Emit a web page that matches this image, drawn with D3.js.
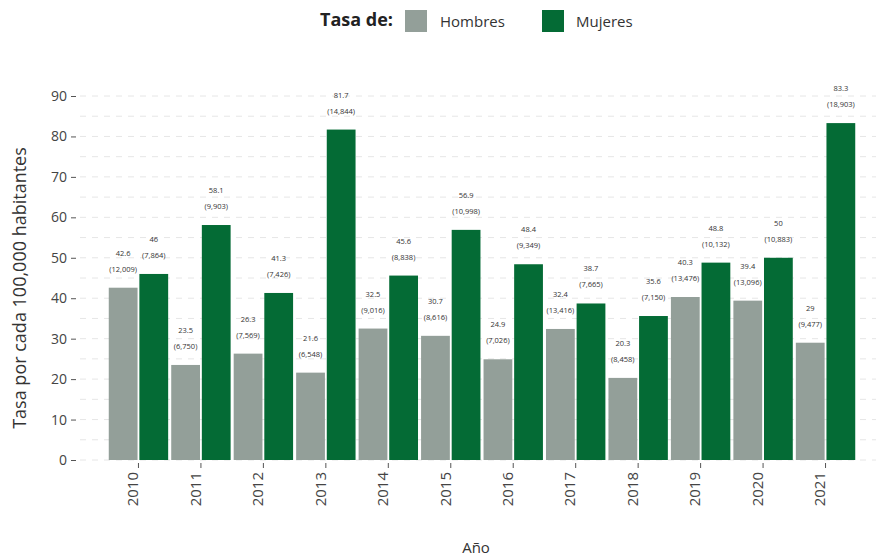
<!DOCTYPE html>
<html>
<head>
<meta charset="utf-8">
<script src="https://cdn.jsdelivr.net/npm/d3@7"></script>
<style>
  body { margin: 0; background: #fff; }
  svg text { font-family: "Open Sans", "DejaVu Sans", sans-serif; }
</style>
</head>
<body>
<div id="chart"></div>
<script>
// datos
const years = ["2010","2011","2012","2013","2014","2015","2016","2017","2018","2019","2020","2021"];
const hombres = [42.6, 23.5, 26.3, 21.6, 32.5, 30.7, 24.9, 32.4, 20.3, 40.3, 39.4, 29];
const hombresN = ["12,009","6,750","7,569","6,548","9,016","8,616","7,026","13,416","8,458","13,476","13,096","9,477"];
const mujeres = [46, 58.1, 41.3, 81.7, 45.6, 56.9, 48.4, 38.7, 35.6, 48.8, 50, 83.3];
const mujeresN = ["7,864","9,903","7,426","14,844","8,838","10,998","9,349","7,665","7,150","10,132","10,883","18,903"];
const series = ["Hombres", "Mujeres"];
const yTicks = [0, 10, 20, 30, 40, 50, 60, 70, 80, 90];

const width = 882, height = 558;
const colors = { Hombres: "#939f99", Mujeres: "#046b35" };

const svg = d3.select("#chart").append("svg")
    .attr("width", width)
    .attr("height", height);

const x = d3.scaleBand()
    .domain(years)
    .range([76, 888])
    .paddingInner(0)
    .paddingOuter(0.5);

const xSub = d3.scaleBand()
    .domain(series)
    .range([0, x.bandwidth()])
    .paddingOuter(0.05)
    .paddingInner(0.06);

const y = d3.scaleLinear()
    .domain([0, 90])
    .range([460, 96]);

// rejilla punteada
const grid = svg.append("g");
grid.selectAll("line")
    .data(d3.range(0, 91, 5))
    .enter().append("line")
    .attr("x1", 80).attr("x2", 876)
    .attr("y1", d => y(d)).attr("y2", d => y(d))
    .attr("stroke", "#e6e6e6")
    .attr("stroke-width", 1)
    .attr("stroke-dasharray", "6,6");

// barras
const data = years.map((yr, i) => ({
    year: yr,
    vals: [
        { s: "Hombres", v: hombres[i], n: hombresN[i] },
        { s: "Mujeres", v: mujeres[i], n: mujeresN[i] }
    ]
}));

const groups = svg.append("g").selectAll("g")
    .data(data)
    .enter().append("g")
    .attr("transform", d => `translate(${x(d.year)},0)`);

groups.selectAll("rect")
    .data(d => d.vals)
    .enter().append("rect")
    .attr("x", d => xSub(d.s))
    .attr("width", xSub.bandwidth())
    .attr("y", d => y(d.v))
    .attr("height", d => y(0) - y(d.v))
    .attr("fill", d => colors[d.s]);

// etiquetas
groups.selectAll("text.val")
    .data(d => d.vals)
    .enter().append("text")
    .attr("class", "val")
    .attr("x", d => xSub(d.s) + xSub.bandwidth() / 2)
    .attr("y", d => y(d.v) - 32)
    .attr("text-anchor", "middle")
    .attr("font-size", 7.5)
    .attr("fill", "#333")
    .text(d => d.v);

groups.selectAll("text.num")
    .data(d => d.vals)
    .enter().append("text")
    .attr("class", "num")
    .attr("x", d => xSub(d.s) + xSub.bandwidth() / 2)
    .attr("y", d => y(d.v) - 16)
    .attr("text-anchor", "middle")
    .attr("font-size", 7.5)
    .attr("fill", "#333")
    .text(d => `(${d.n})`);

// ejes
const yAxis = svg.append("g")
    .attr("transform", "translate(76,0)")
    .call(d3.axisLeft(y).tickValues(yTicks).tickSize(5).tickPadding(4));
yAxis.select(".domain").remove();
yAxis.selectAll("line").attr("stroke", "#555");
yAxis.selectAll("text").attr("font-size", 14).attr("fill", "#444");

const xAxis = svg.append("g")
    .attr("transform", "translate(0,463)")
    .call(d3.axisBottom(x).tickSize(5).tickPadding(4));
xAxis.select(".domain").remove();
xAxis.selectAll("line").attr("stroke", "#555");
xAxis.selectAll("text")
    .attr("font-size", 15)
    .attr("fill", "#444")
    .attr("transform", "rotate(-90)")
    .attr("text-anchor", "end")
    .attr("dx", "-0.6em")
    .attr("dy", "-0.35em")
    .attr("x", 0).attr("y", 5);

// títulos
svg.append("text")
    .attr("x", 476).attr("y", 553)
    .attr("text-anchor", "middle")
    .attr("font-size", 15)
    .attr("fill", "#333")
    .text("Año");

svg.append("text")
    .attr("transform", "translate(26,288) rotate(-90)")
    .attr("text-anchor", "middle")
    .attr("font-size", 18)
    .attr("fill", "#333")
    .text("Tasa por cada 100,000 habitantes");

// leyenda
const legend = svg.append("g").attr("transform", "translate(0,20)");
legend.append("text")
    .attr("x", 393).attr("y", 6)
    .attr("text-anchor", "end")
    .attr("font-size", 18)
    .attr("font-weight", "bold")
    .attr("fill", "#222")
    .text("Tasa de:");
legend.append("rect").attr("x", 405).attr("y", -10).attr("width", 22).attr("height", 22).attr("fill", colors.Hombres);
legend.append("text").attr("x", 440).attr("y", 7).attr("font-size", 15).attr("fill", "#333").text("Hombres");
legend.append("rect").attr("x", 542).attr("y", -10).attr("width", 22).attr("height", 22).attr("fill", colors.Mujeres);
legend.append("text").attr("x", 576).attr("y", 7).attr("font-size", 15).attr("fill", "#333").text("Mujeres");
</script>
</body>
</html>
